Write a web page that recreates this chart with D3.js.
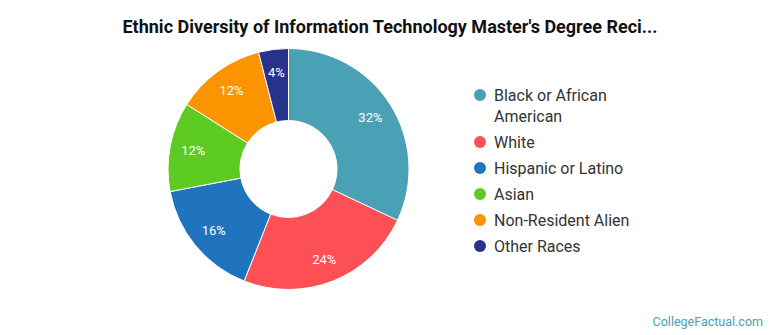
<!DOCTYPE html>
<html>
<head>
<meta charset="utf-8">
<script src="https://cdn.jsdelivr.net/npm/d3@7"></script>
<style>
    body { margin: 0; background: #fff; font-family: Roboto, "Open Sans", sans-serif; }
    #chart { width: 770px; height: 335px; }
</style>
</head>
<body>
<div id="chart"></div>
<script>
// chart data
const categories = ["Black or African American", "White", "Hispanic or Latino", "Asian", "Non-Resident Alien", "Other Races"];
const counts = [8, 6, 4, 3, 3, 1];
const colors = ["#4aa0b4", "#fc5055", "#1f74bd", "#5dcb22", "#fb9400", "#27338a"];
const legendLines = [["Black or African", "American"], ["White"], ["Hispanic or Latino"], ["Asian"], ["Non-Resident Alien"], ["Other Races"]];

const width = 770, height = 335;
const cx = 288.5, cy = 169;
const outerR = 120.5, innerR = 48.5;

const svg = d3.select("#chart")
    .append("svg")
    .attr("width", width)
    .attr("height", height);

svg.append("text")
    .attr("x", 390)
    .attr("y", 33)
    .attr("text-anchor", "middle")
    .attr("font-size", "18px")
    .attr("font-weight", "bold")
    .attr("fill", "#111")
    .text("Ethnic Diversity of Information Technology Master's Degree Reci...");

const total = d3.sum(counts);
const data = categories.map((c, i) => ({ name: c, value: counts[i], color: colors[i] }));

const pie = d3.pie().value(d => d.value).sort(null);
const arc = d3.arc().innerRadius(innerR).outerRadius(outerR);
const labelArc = d3.arc().innerRadius(97).outerRadius(97);

const g = svg.append("g").attr("transform", `translate(${cx},${cy})`);

const slices = g.selectAll("g.slice")
    .data(pie(data))
    .enter()
    .append("g")
    .attr("class", "slice");

slices.append("path")
    .attr("d", arc)
    .attr("fill", d => d.data.color)
    .attr("stroke", "#fff")
    .attr("stroke-width", 1);

slices.append("text")
    .attr("transform", d => `translate(${labelArc.centroid(d)})`)
    .attr("text-anchor", "middle")
    .attr("dy", "0.35em")
    .attr("font-size", "13px")
    .attr("fill", "#fff")
    .text(d => Math.round(d.data.value / total * 100) + "%");

// legend
const legendY = [95, 142, 168, 194, 220, 246];
const legend = svg.append("g");
data.forEach((d, i) => {
    const row = legend.append("g").attr("transform", `translate(0,${legendY[i]})`);
    row.append("circle")
        .attr("cx", 480)
        .attr("cy", 0)
        .attr("r", 6)
        .attr("fill", d.color);
    legendLines[i].forEach((line, j) => {
        row.append("text")
            .attr("x", 494)
            .attr("y", j * 21)
            .attr("dy", "0.35em")
            .attr("font-size", "16px")
            .attr("fill", "#333")
            .text(line);
    });
});

svg.append("text")
    .attr("x", 763)
    .attr("y", 326)
    .attr("text-anchor", "end")
    .attr("font-size", "12.5px")
    .attr("fill", "#4aa0b4")
    .text("CollegeFactual.com");
</script>
</body>
</html>
